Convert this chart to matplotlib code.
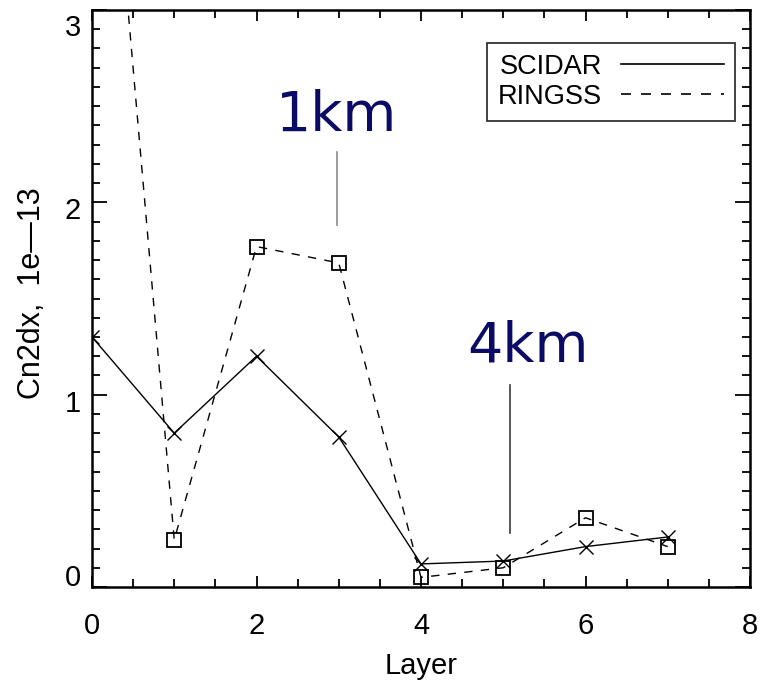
import matplotlib
matplotlib.use("Agg")
import matplotlib.pyplot as plt
import matplotlib.transforms as mtransforms
from matplotlib.lines import Line2D
from matplotlib.ticker import MultipleLocator

# Turbulence per layer, units of 1e-13
layers = [0, 1, 2, 3, 4, 5, 6, 7]
scidar = [1.30, 0.80, 1.20, 0.78, 0.12, 0.135, 0.21, 0.26]
ringss = [5.15, 0.245, 1.77, 1.685, 0.05, 0.10, 0.36, 0.21]

series_names = ["SCIDAR", "RINGSS"]
ytick_values = [0, 1, 2, 3]
xtick_values = [0, 2, 4, 6, 8]

# altitude markers: label, text x/y, line x, line y-span
alt_labels = ["1km", "4km"]
alt_text_xy = [(2.98, 2.37), (5.30, 1.17)]
alt_line_x = [2.98, 5.08]
alt_line_y = [(1.88, 2.26), (0.28, 1.05)]
alt_line_colors = ["#8a8a8a", "#3a3a3a"]

plt.rcParams["font.family"] = ["Liberation Sans", "DejaVu Sans"]

fig = plt.figure(figsize=(7.69, 6.86), dpi=100)
W, H = 769, 686
ax = fig.add_axes([92 / W, 1 - 587 / H, (750 - 92) / W, (587 - 10) / H])

dash = (0, (6, 6))
ax.plot(layers, scidar, color="black", lw=1.0, marker="x", ms=10, mew=1.0)
ax.plot(layers, ringss, color="black", lw=1.0, linestyle=dash, marker="s",
        ms=9.5, mew=1.3, mfc="none")

ax.set_xlim(0, 8)
ax.set_ylim(0, 3)
ax.set_xticks(xtick_values)
ax.set_yticks(ytick_values)
ax.xaxis.set_minor_locator(MultipleLocator(0.5))
ax.yaxis.set_minor_locator(MultipleLocator(0.1))
ax.tick_params(which="both", direction="in", top=True, right=True,
               width=1.3, labelsize=21, colors="black")
ax.tick_params(axis="x", which="major", length=8, pad=18)
ax.tick_params(axis="x", which="minor", length=5.5)
ax.tick_params(axis="y", which="major", length=11, pad=8)
ax.tick_params(axis="y", which="minor", length=6)
for s in ax.spines.values():
    s.set_linewidth(1.8)

# shift the y tick labels: end labels pulled inside the axis range
offsets_px = {0: 12, 1: -6, 2: -6, 3: -15}
for val, lab in zip(ytick_values, ax.get_yticklabels()):
    dy = offsets_px[val] / fig.dpi
    lab.set_transform(lab.get_transform() +
                      mtransforms.ScaledTranslation(0, dy, fig.dpi_scale_trans))

ax.set_xlabel("Layer", fontsize=21)
ax.xaxis.set_label_coords(0.5, -0.112)
ax.set_ylabel("Cn2dx,  1e\u201413", fontsize=22)
ax.yaxis.set_label_coords(-0.068, 0.51)

for txt, (tx, ty), lx, (y0, y1), lc in zip(alt_labels, alt_text_xy, alt_line_x,
                                           alt_line_y, alt_line_colors):
    ax.text(tx, ty, txt, ha="center", va="baseline", fontsize=40,
            color="#0b0b66", family="DejaVu Sans")
    ax.plot([lx, lx], [y0, y1], color=lc, lw=1.2)

handles = [Line2D([], [], color="black", lw=1.2),
           Line2D([], [], color="black", lw=1.2, linestyle=dash)]
leg = ax.legend(handles, series_names, loc="upper right",
                bbox_to_anchor=(0.977, 0.943), borderaxespad=0,
                markerfirst=False, fontsize=19.5, handlelength=3.8,
                handletextpad=0.7, labelspacing=0.15, borderpad=0.4,
                frameon=True, fancybox=False, edgecolor="black")
leg.get_frame().set_linewidth(1.3)

fig.savefig("out.png", dpi=100)
